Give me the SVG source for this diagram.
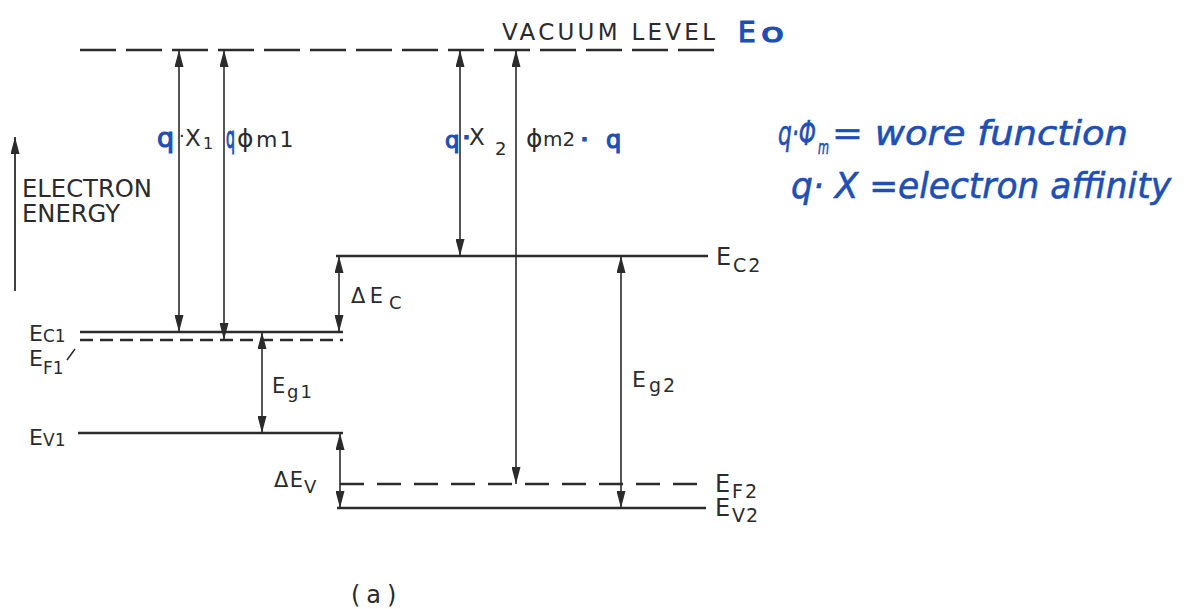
<svg xmlns="http://www.w3.org/2000/svg" width="1194" height="609" viewBox="0 0 1194 609">
<style>
.lvl{stroke:#2b2b2b;stroke-width:2.6;fill:none;stroke-linecap:butt}
.vac{stroke-dasharray:36 10}
.dF1{stroke-dasharray:13 7}
.dF2{stroke-dasharray:24 13}
.arr{stroke:#2b2b2b;stroke-width:1.6;fill:none;marker-start:url(#ah);marker-end:url(#ah)}
.up{stroke:#2b2b2b;stroke-width:1.8;fill:none;marker-end:url(#ah)}
.t{font-family:"DejaVu Sans","Liberation Sans",sans-serif;fill:#2b2b2b}
.b{font-family:"DejaVu Sans","Liberation Sans",sans-serif;fill:#1e4fb5;stroke:#1e4fb5;stroke-width:1.2}
.bs{fill:#1e4fb5;stroke:#1e4fb5;stroke-width:1.2}
.hw{font-family:"DejaVu Sans","Liberation Sans",sans-serif;font-style:italic;fill:#1e4fb5;stroke:#1e4fb5;stroke-width:0.6}
</style>
<defs>
<marker id="ah" viewBox="0 0 17 9" markerWidth="17" markerHeight="9" refX="17" refY="4.5" markerUnits="userSpaceOnUse" orient="auto-start-reverse">
<path d="M0,0 L17,4.5 L0,9 z" fill="#2b2b2b"/>
</marker>
</defs>
<rect width="1194" height="609" fill="#ffffff"/>

<g id="vacuum-level">
<line class="lvl vac" x1="80" y1="50" x2="724" y2="50"/>
<text class="t" x="502" y="40" font-size="23" textLength="213" lengthAdjust="spacing">VACUUM LEVEL</text>
<text class="b" x="738" y="42" font-size="28" stroke-width="1.4">E</text>
<text class="b" x="761" y="42" font-size="27" stroke-width="1.6" textLength="23" lengthAdjust="spacingAndGlyphs">o</text>
</g>

<g id="energy-axis">
<line class="up" x1="15" y1="291" x2="15" y2="137"/>
<text class="t" x="22" y="197" font-size="24" textLength="130" lengthAdjust="spacingAndGlyphs">ELECTRON</text>
<text class="t" x="22" y="222" font-size="24" textLength="98" lengthAdjust="spacingAndGlyphs">ENERGY</text>
</g>

<g id="Ec1">
<line class="lvl" x1="80" y1="332" x2="343" y2="332"/>
<text class="t" x="29" y="341" font-size="22">E<tspan x="43" y="342" font-size="17">C1</tspan></text>
</g>

<g id="EF1">
<line class="lvl dF1" x1="80" y1="340" x2="343" y2="340"/>
<line x1="67" y1="360" x2="75" y2="349" stroke="#2b2b2b" stroke-width="1.5"/>
<text class="t" x="29" y="366" font-size="22">E<tspan x="43" y="374" font-size="17">F1</tspan></text>
</g>

<g id="Ev1">
<line class="lvl" x1="78" y1="433" x2="343" y2="433"/>
<text class="t" x="29" y="445" font-size="22">E<tspan x="43" y="446" font-size="17">V1</tspan></text>
</g>

<g id="Ec2">
<line class="lvl" x1="336" y1="256" x2="708" y2="256"/>
<text class="t" x="716" y="265" font-size="24">E<tspan x="733" y="272" font-size="19" letter-spacing="2">C2</tspan></text>
</g>

<g id="EF2">
<line class="lvl dF2" x1="340" y1="484" x2="708" y2="484"/>
<text class="t" x="715" y="492" font-size="24">E<tspan x="732" y="498" font-size="19" letter-spacing="2">F2</tspan></text>
</g>

<g id="Ev2">
<line class="lvl" x1="337" y1="508" x2="706" y2="508"/>
<text class="t" x="715" y="516" font-size="24">E<tspan x="732" y="522" font-size="19" letter-spacing="1">V2</tspan></text>
</g>

<g id="connectors">
<line class="arr" x1="179" y1="50" x2="179" y2="332"/>
<line class="arr" x1="224" y1="50" x2="224" y2="340"/>
<line class="arr" x1="460" y1="50" x2="460" y2="256"/>
<line class="arr" x1="516" y1="50" x2="516" y2="484"/>
<line class="arr" x1="339" y1="256" x2="339" y2="332"/>
<line class="arr" x1="262" y1="332" x2="262" y2="433"/>
<line class="arr" x1="621" y1="256" x2="621" y2="508"/>
<line class="arr" x1="340" y1="433" x2="340" y2="508"/>
</g>

<g id="arrow-labels">
<text class="t" x="157" y="147" font-size="23"><tspan class="bs" font-size="27">q</tspan><tspan x="179" y="142" font-size="18">·</tspan><tspan x="185" y="146">X</tspan><tspan x="203" y="149" font-size="16">1</tspan></text>
<text class="b" x="226" y="148" font-size="30" textLength="9" lengthAdjust="spacingAndGlyphs">q</text>
<text class="t" x="237" y="147" font-size="25">ϕ<tspan x="256" y="147" font-size="22" letter-spacing="2">m1</tspan></text>

<text class="t" x="445" y="148" font-size="23"><tspan class="bs" font-size="23">q</tspan><tspan class="bs" x="463" y="144" font-size="18" font-weight="bold">·</tspan><tspan x="469" y="145">X</tspan><tspan x="495" y="155" font-size="18">2</tspan></text>
<text class="t" x="526" y="147" font-size="25">ϕ<tspan x="543" y="146" font-size="20">m2</tspan><tspan class="bs" x="581" y="146" font-size="18" font-weight="bold">·</tspan><tspan class="bs" x="606" y="148" font-size="24">q</tspan></text>

<text class="t" x="351" y="303" font-size="21" textLength="32" lengthAdjust="spacing">ΔE</text>
<text class="t" x="389" y="309" font-size="18">C</text>

<text class="t" x="272" y="393" font-size="21">E<tspan x="287" y="398" font-size="18" letter-spacing="2">g1</tspan></text>

<text class="t" x="632" y="387" font-size="22">E<tspan x="649" y="392" font-size="19" letter-spacing="2">g2</tspan></text>

<text class="t" x="274" y="487" font-size="21" textLength="29" lengthAdjust="spacing">ΔE</text>
<text class="t" x="304" y="493" font-size="18">V</text>
</g>

<g id="legend">
<text class="hw" x="778" y="145" font-size="33" textLength="38" lengthAdjust="spacingAndGlyphs">q·Φ</text>
<text class="hw" x="818" y="154" font-size="19" textLength="11" lengthAdjust="spacingAndGlyphs">m</text>
<text class="hw" x="832" y="145" font-size="34" textLength="296" lengthAdjust="spacingAndGlyphs">= wore function</text>
<text class="hw" x="791" y="198" font-size="35" textLength="380" lengthAdjust="spacingAndGlyphs">q· X =electron affinity</text>
</g>

<g id="caption">
<text class="t" x="351" y="603" font-size="24" letter-spacing="6">(a)</text>
</g>
</svg>
